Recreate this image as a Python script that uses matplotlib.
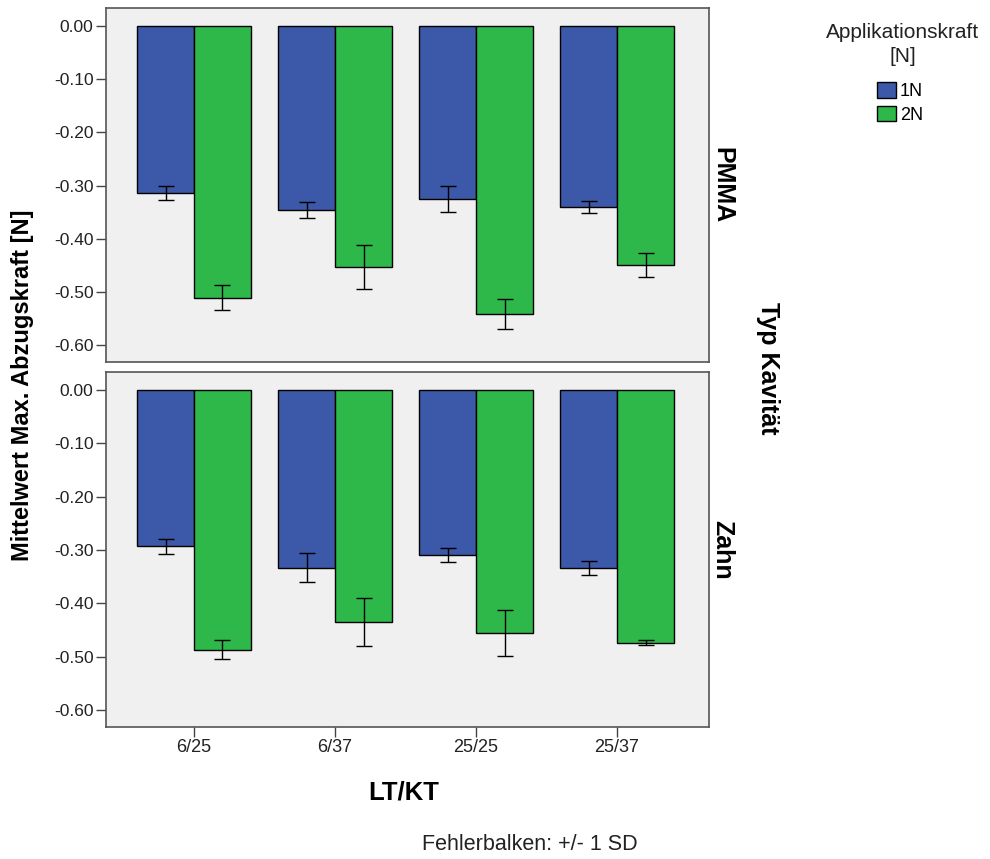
import matplotlib
matplotlib.use("Agg")
import matplotlib.pyplot as plt
from matplotlib.patches import Patch
import numpy as np

plt.rcParams['font.family'] = ['Liberation Sans', 'DejaVu Sans']

categories = ["6/25", "6/37", "25/25", "25/37"]
series_names = ["1N", "2N"]
panels = ["PMMA", "Zahn"]

pmma_1n = [-0.314, -0.346, -0.325, -0.341]
pmma_1n_sd = [0.013, 0.015, 0.025, 0.011]
pmma_2n = [-0.511, -0.453, -0.541, -0.450]
pmma_2n_sd = [0.023, 0.041, 0.028, 0.023]

zahn_1n = [-0.293, -0.333, -0.310, -0.333]
zahn_1n_sd = [0.014, 0.027, 0.013, 0.013]
zahn_2n = [-0.487, -0.435, -0.455, -0.474]
zahn_2n_sd = [0.018, 0.045, 0.043, 0.005]

yticks = [0.0, -0.1, -0.2, -0.3, -0.4, -0.5, -0.6]
ytick_labels = ["0.00", "-0.10", "-0.20", "-0.30", "-0.40", "-0.50", "-0.60"]

colors = ["#3C58A8", "#2EB84A"]
W, H = 990, 859
fig = plt.figure(figsize=(W / 100, H / 100), dpi=100)

def ax_rect(l, t, r, b):
    return [l / W, 1 - b / H, (r - l) / W, (b - t) / H]

axes = [fig.add_axes(ax_rect(106, 8, 709, 362)),
        fig.add_axes(ax_rect(106, 372, 709, 727))]

data = [(pmma_1n, pmma_1n_sd, pmma_2n, pmma_2n_sd),
        (zahn_1n, zahn_1n_sd, zahn_2n, zahn_2n_sd)]

x = np.arange(len(categories))
bw = 0.404
for i, ax in enumerate(axes):
    v1, s1, v2, s2 = data[i]
    ax.set_facecolor("#F0F0F0")
    for j, (v, s) in enumerate([(v1, s1), (v2, s2)]):
        pos = x + (j - 0.5) * bw
        ax.bar(pos, v, width=bw, color=colors[j], edgecolor="black", linewidth=1.0, zorder=2)
        ax.errorbar(pos, v, yerr=s, fmt="none", ecolor="black", elinewidth=1.0,
                    capsize=5.5, capthick=1.0, zorder=3)
    ax.set_xlim(-0.624, 3.652)
    ax.set_ylim(-0.632, 0.034)
    ax.set_yticks(yticks)
    ax.set_yticklabels(ytick_labels, fontsize=12.5, color="#222222")
    ax.tick_params(axis="y", direction="out", length=7, width=1, color="#444444", pad=2)
    for sp in ax.spines.values():
        sp.set_color("#555555")
        sp.set_linewidth(1.2)
    ax.text(1.022, 0.5, panels[i], transform=ax.transAxes, rotation=-90,
            ha="center", va="center", fontsize=18, fontweight="bold")
    if i == 0:
        ax.set_xticks([])
    else:
        ax.set_xticks(x)
        ax.set_xticklabels(categories, fontsize=13, color="#222222")
        ax.tick_params(axis="x", direction="out", length=7, width=1, color="#444444", pad=2)

fig.text(23 / W, 1 - 385 / H, "Mittelwert Max. Abzugskraft [N]", rotation=90,
         ha="center", va="center", fontsize=17, fontweight="bold")
fig.text(768 / W, 1 - 368 / H, "Typ Kavität", rotation=-90,
         ha="center", va="center", fontsize=18, fontweight="bold")
fig.text(404 / W, 1 - 792 / H, "LT/KT", ha="center", va="center",
         fontsize=18.5, fontweight="bold")
fig.text(530 / W, 1 - 845 / H, "Fehlerbalken: +/- 1 SD", ha="center", va="center",
         fontsize=15.5, color="#222222")

fig.text(903 / W, 1 - 23 / H, "Applikationskraft\n[N]", ha="center", va="top",
         multialignment="center", fontsize=15, color="#222222", linespacing=1.35)
handles = [Patch(facecolor=colors[k], edgecolor="black", label=series_names[k]) for k in range(2)]
leg = fig.legend(handles=handles, loc="upper center",
                 bbox_to_anchor=(900 / W, 1 - 73 / H), frameon=False, fontsize=13,
                 handlelength=1.05, handleheight=0.95,
                 handletextpad=0.2, labelspacing=0.32, borderpad=0)

fig.savefig("out.png", dpi=100)
